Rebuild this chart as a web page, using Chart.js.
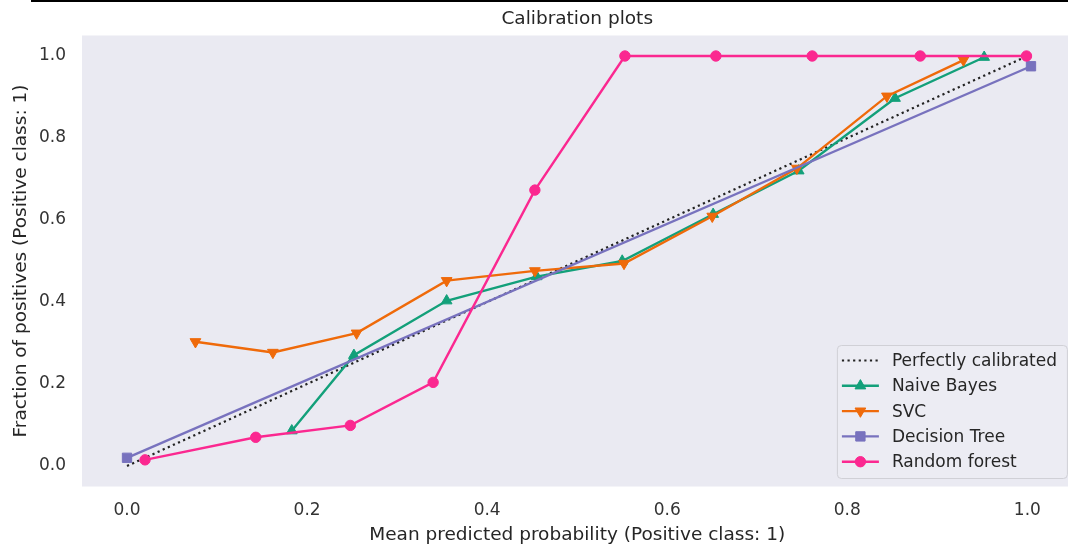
<!DOCTYPE html>
<html>
<head>
<meta charset="utf-8">
<script src="https://cdn.jsdelivr.net/npm/chart.js@4.4.1/dist/chart.umd.min.js"></script>
<style>
  html, body { margin: 0; padding: 0; background: #fff; overflow: hidden; }
  #wrap { position: relative; width: 1068px; height: 547px; overflow: hidden; }
  #calib { position: absolute; left: 0; top: 0; }
  #topRule { position: absolute; left: 31px; top: 0; width: 1037px; height: 2px; background: #000; }
</style>
</head>
<body>
<div id="wrap">
  <!-- a bit wider than the window: the axes run past the right edge -->
  <canvas id="calib" width="1080" height="547" style="width:1080px;height:547px"></canvas>
  <div id="topRule"></div>
</div>
<script>
// calibration curves: mean predicted probability vs fraction of positives
const perfectX = [0.0, 1.0];
const perfectY = [0.0, 1.0];

const nbX = [0.183, 0.252, 0.355, 0.455, 0.550, 0.651, 0.746, 0.853, 0.952];
const nbY = [0.086, 0.270, 0.403, 0.462, 0.500, 0.614, 0.720, 0.897, 0.997];

const svcX = [0.076, 0.162, 0.255, 0.355, 0.453, 0.552, 0.650, 0.744, 0.844, 0.929];
const svcY = [0.303, 0.277, 0.324, 0.452, 0.476, 0.494, 0.609, 0.726, 0.902, 0.990];

const dtX = [0.0, 1.004];
const dtY = [0.020, 0.975];

const rfX = [0.020, 0.143, 0.248, 0.340, 0.453, 0.553, 0.654, 0.761, 0.881, 0.999];
const rfY = [0.015, 0.070, 0.099, 0.204, 0.673, 1.0, 1.0, 1.0, 1.0, 1.0];

const xTicks = [0.0, 0.2, 0.4, 0.6, 0.8, 1.0];
const yTicks = [0.0, 0.2, 0.4, 0.6, 0.8, 1.0];

const TEXT = '#262626';
Chart.defaults.font.family = "'DejaVu Sans', sans-serif";

function pts(xs, ys) {
    return xs.map((x, i) => ({ x: x, y: ys[i] }));
}

function series(label, xs, ys, color, style, radius, order, rotation = 0) {
    return {
        label: label,
        data: pts(xs, ys),
        showLine: true,
        borderColor: color,
        backgroundColor: color,
        borderWidth: 2.4,
        pointStyle: style,
        pointRotation: rotation,
        pointRadius: radius,
        pointHoverRadius: radius,
        pointBorderWidth: 1,
        pointBorderColor: color,
        pointBackgroundColor: color,
        order: order,
    };
}

const datasets = [
    {
        label: 'Perfectly calibrated',
        data: pts(perfectX, perfectY),
        showLine: true,
        borderColor: '#222',
        borderWidth: 2.2,
        borderDash: [2.2, 3.4],
        pointRadius: 0,
        order: 5,
    },
    series('Naive Bayes', nbX, nbY, '#13a07a', 'triangle', 6.2, 4),
    series('SVC', svcX, svcY, '#ef6a0a', 'triangle', 6.2, 3, 180),
    series('Decision Tree', dtX, dtY, '#7872be', 'rect', 6.6, 2),
    series('Random forest', rfX, rfY, '#fb2890', 'circle', 5.2, 1),
];

// small marker painter for the legend handles
function marker(ctx, ds, x, y) {
    if (!ds.pointRadius) return;
    const r = ds.pointRadius;
    ctx.save();
    ctx.fillStyle = ds.pointBackgroundColor;
    ctx.strokeStyle = ds.pointBorderColor;
    ctx.lineWidth = 1;
    ctx.setLineDash([]);
    ctx.beginPath();
    if (ds.pointStyle === 'circle') {
        ctx.arc(x, y, r, 0, Math.PI * 2);
    } else if (ds.pointStyle === 'rect') {
        const s = r * Math.SQRT1_2;
        ctx.rect(x - s, y - s, 2 * s, 2 * s);
    } else {
        const d = ds.pointRotation === 180 ? -1 : 1;
        ctx.moveTo(x, y - d * r);
        ctx.lineTo(x + 0.866 * r, y + d * 0.5 * r);
        ctx.lineTo(x - 0.866 * r, y + d * 0.5 * r);
        ctx.closePath();
    }
    ctx.fill();
    ctx.stroke();
    ctx.restore();
}

const plotBackground = {
    id: 'plotBackground',
    beforeDraw(chart) {
        const a = chart.chartArea;
        const ctx = chart.ctx;
        ctx.save();
        ctx.fillStyle = '#eaeaf2';
        ctx.fillRect(a.left, a.top, a.right - a.left, a.bottom - a.top);
        ctx.restore();
    }
};

const boxLegend = {
    id: 'boxLegend',
    afterDraw(chart) {
        const a = chart.chartArea;
        const ctx = chart.ctx;
        const w = 230, h = 133;
        const left = a.right - 5.5 - w;
        const top = a.bottom - 8.5 - h;
        ctx.save();
        ctx.fillStyle = 'rgba(236,236,243,0.92)';
        ctx.strokeStyle = '#d0d0d6';
        ctx.lineWidth = 1;
        ctx.beginPath();
        ctx.roundRect(left + 0.5, top + 0.5, w, h, 4);
        ctx.fill();
        ctx.stroke();

        ctx.font = "17px 'DejaVu Sans', sans-serif";
        ctx.textBaseline = 'middle';
        ctx.textAlign = 'left';
        chart.data.datasets.forEach((ds, i) => {
            const y = top + 15.5 + i * 25.3;
            ctx.strokeStyle = ds.borderColor;
            ctx.lineWidth = ds.borderWidth;
            ctx.setLineDash(ds.borderDash || []);
            ctx.beginPath();
            ctx.moveTo(left + 5, y);
            ctx.lineTo(left + 42, y);
            ctx.stroke();
            ctx.setLineDash([]);
            marker(ctx, ds, left + 23.5, y);
            ctx.fillStyle = TEXT;
            ctx.fillText(ds.label, left + 55, y + 1);
        });
        ctx.restore();
    }
};

new Chart(document.getElementById('calib'), {
    type: 'scatter',
    data: { datasets: datasets },
    plugins: [plotBackground, boxLegend],
    options: {
        responsive: false,
        animation: false,
        devicePixelRatio: 1,
        layout: { padding: 0 },
        plugins: {
            legend: { display: false },
            tooltip: { enabled: false },
            title: {
                display: true,
                text: 'Calibration plots',
                color: TEXT,
                fullSize: false,
                font: { size: 18.5, weight: 'normal' },
                padding: { top: 8.5, bottom: 4.8 },
            },
        },
        scales: {
            x: {
                type: 'linear',
                min: -0.05,
                max: 1.05,
                grid: { display: false, drawTicks: false },
                border: { display: false },
                ticks: {
                    padding: 14,
                    color: '#333',
                    font: { size: 17 },
                    callback: v => v.toFixed(1),
                },
                afterBuildTicks: s => { s.ticks = xTicks.map(v => ({ value: v })); },
                afterFit: s => {
                    s.height = 60.5;
                    s.paddingLeft = 0;
                    s.paddingRight = 0;
                },
                title: {
                    display: true,
                    text: 'Mean predicted probability (Positive class: 1)',
                    color: TEXT,
                    font: { size: 18.5 },
                    padding: { top: 0, bottom: 1 },
                },
            },
            y: {
                type: 'linear',
                min: -0.05,
                max: 1.05,
                grid: { display: false, drawTicks: false },
                border: { display: false },
                ticks: {
                    padding: 16,
                    color: '#333',
                    font: { size: 17 },
                    callback: v => v.toFixed(1),
                },
                afterBuildTicks: s => { s.ticks = yTicks.map(v => ({ value: v })); },
                afterFit: s => {
                    s.width = 82;
                    s.paddingTop = 0;
                    s.paddingBottom = 0;
                },
                title: {
                    display: true,
                    text: 'Fraction of positives (Positive class: 1)',
                    color: TEXT,
                    font: { size: 18.5 },
                    padding: { top: 10, bottom: 0 },
                },
            },
        },
    },
});
</script>
</body>
</html>
